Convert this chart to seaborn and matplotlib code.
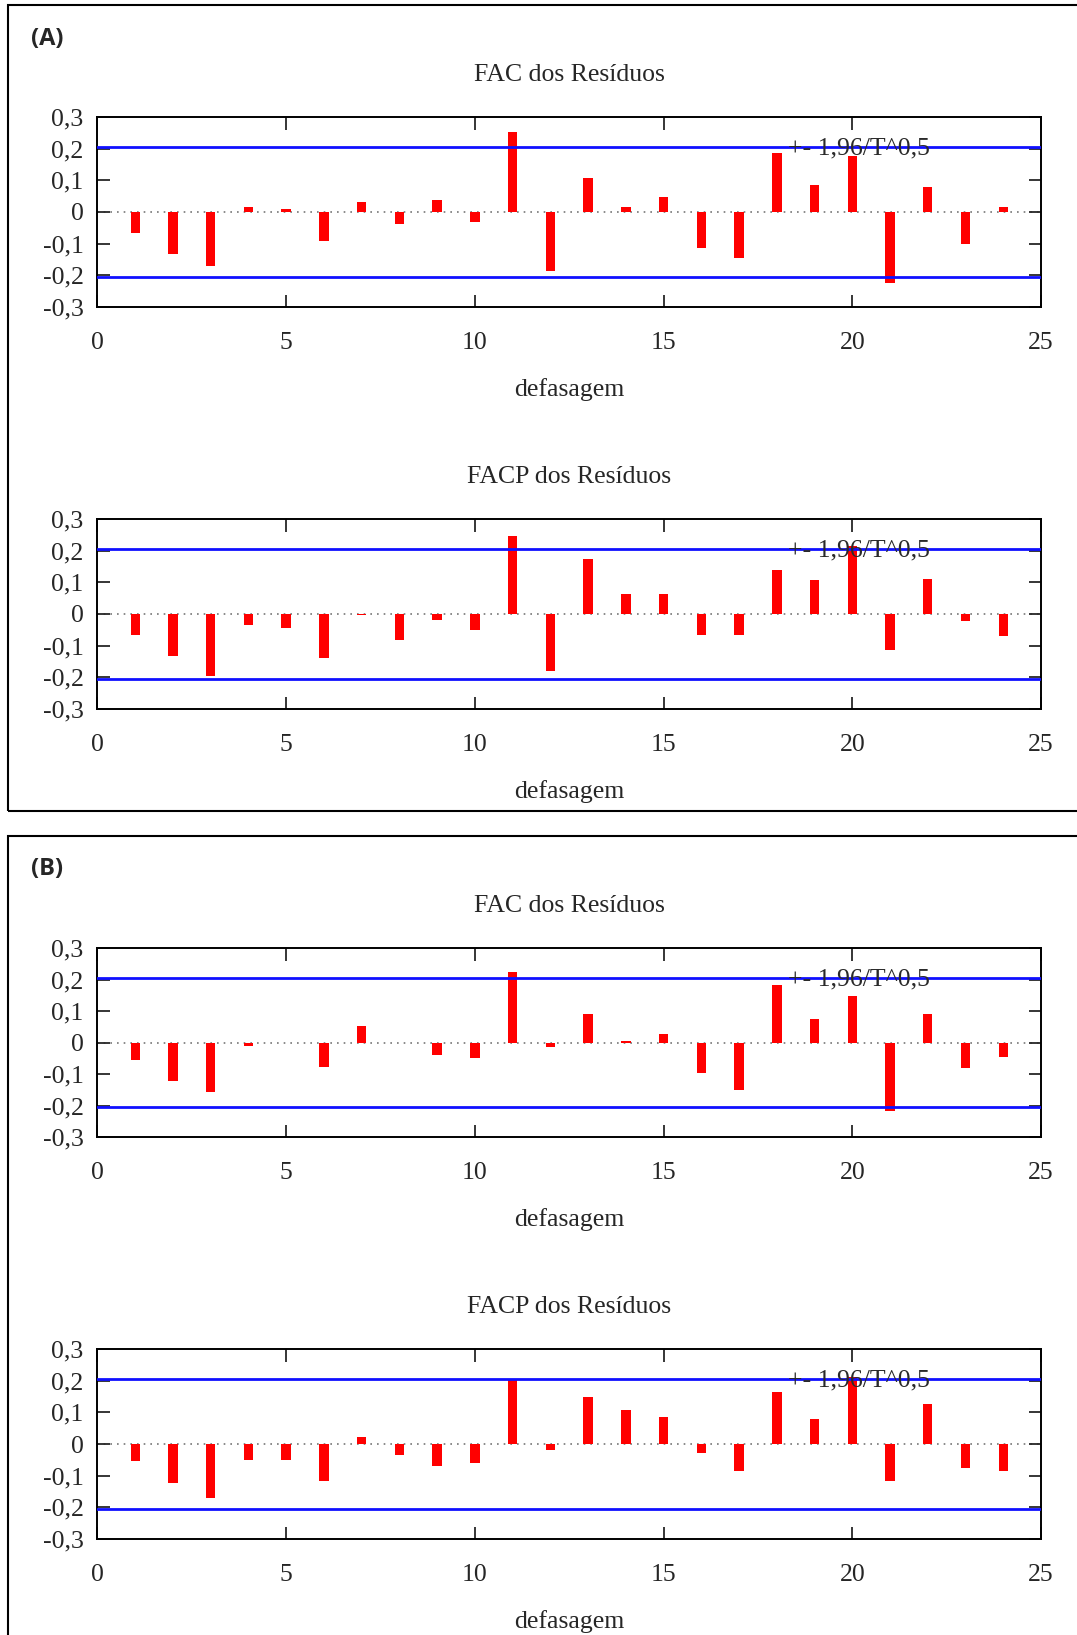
import matplotlib
matplotlib.use("Agg")
import matplotlib.pyplot as plt
import matplotlib.ticker as mticker
from matplotlib.patches import Rectangle
import seaborn as sns
import pandas as pd

# lags 1..24
lags = list(range(1, 25))

# (A) residual ACF / PACF
fac_a = [-0.065, -0.134, -0.170, 0.017, 0.010, -0.092, 0.033, -0.039, 0.038, -0.032,
         0.254, -0.186, 0.106, 0.017, 0.048, -0.113, -0.144, 0.187, 0.085, 0.177,
         -0.225, 0.080, -0.102, 0.017]
facp_a = [-0.065, -0.134, -0.197, -0.034, -0.044, -0.139, -0.002, -0.081, -0.018, -0.049,
          0.245, -0.181, 0.175, 0.064, 0.064, -0.065, -0.065, 0.138, 0.106, 0.215,
          -0.113, 0.112, -0.023, -0.071]

# (B) residual ACF / PACF
fac_b = [-0.055, -0.123, -0.156, -0.010, -0.003, -0.077, 0.053, -0.003, -0.039, -0.050,
         0.223, -0.014, 0.092, 0.006, 0.028, -0.098, -0.150, 0.182, 0.075, 0.149,
         -0.216, 0.092, -0.082, -0.045]
facp_b = [-0.055, -0.123, -0.170, -0.049, -0.049, -0.118, 0.022, -0.034, -0.070, -0.060,
          0.204, -0.018, 0.148, 0.106, 0.085, -0.028, -0.086, 0.164, 0.080, 0.212,
          -0.118, 0.127, -0.076, -0.086]

band = 0.206  # +- 1.96/sqrt(T)
x_ticks = [0, 5, 10, 15, 20, 25]
y_ticks = [-0.3, -0.2, -0.1, 0, 0.1, 0.2, 0.3]
y_labels = ["-0,3", "-0,2", "-0,1", "0", "0,1", "0,2", "0,3"]

sns.set_style("ticks")
plt.rcParams['font.family'] = ['Liberation Serif', 'DejaVu Serif']

W, H = 1077, 1635
fig = plt.figure(figsize=(W / 100, H / 100), dpi=100)


def frac(y_top, y_bot):
    return [97.5 / W, 1 - y_bot / H, (1041 - 97.5) / W, (y_bot - y_top) / H]


def draw_panel(rect, values, title):
    ax = fig.add_axes(rect)
    df = pd.DataFrame({'lag': lags, 'val': values})
    sns.barplot(data=df, x='lag', y='val', native_scale=True, width=0.25,
                color='#ff0000', saturation=1, errorbar=None, linewidth=0, ax=ax)
    ax.axhline(0, color='#777777', lw=1.2, ls=(0, (1, 3)), zorder=0)
    ax.axhline(band, color='#1010ff', lw=2, zorder=3)
    ax.axhline(-band, color='#1010ff', lw=2, zorder=3)
    ax.text(18.3, band - 0.006, '+- 1,96/T^0,5', fontsize=18.5, color='#2a2a2a',
            va='center', ha='left', zorder=4)
    ax.set_xlim(0, 25)
    ax.set_ylim(-0.3, 0.3)
    ax.set_xticks(x_ticks)
    ax.set_yticks(y_ticks)
    ax.yaxis.set_major_formatter(mticker.FixedFormatter(y_labels))
    ax.tick_params(axis='x', direction='in', length=9, width=1.3, top=True,
                   labelsize=18.5, pad=18)
    ax.tick_params(axis='y', direction='in', length=9, width=1.3, right=True,
                   labelsize=18.5, pad=10)
    for s in ax.spines.values():
        s.set_linewidth(1.4)
        s.set_color('black')
    ax.set_xlabel('')
    ax.set_ylabel('')
    h = rect[3] * H
    ax.text(0.5, 1 + 42 / h, title, transform=ax.transAxes, ha='center',
            va='center', fontsize=18.5)
    ax.text(0.5, -83 / h, 'defasagem', transform=ax.transAxes, ha='center',
            va='center', fontsize=18.5)
    return ax


draw_panel(frac(117, 307), fac_a, 'FAC dos Resíduos')
draw_panel(frac(519, 709), facp_a, 'FACP dos Resíduos')
draw_panel(frac(948, 1137), fac_b, 'FAC dos Resíduos')
draw_panel(frac(1349, 1539), facp_b, 'FACP dos Resíduos')

# panel frames and letters
fig.patches.append(Rectangle((8 / W, 1 - 811 / H), 1.2, (811 - 5) / H,
                             transform=fig.transFigure, fill=False,
                             edgecolor='black', lw=1.5))
fig.patches.append(Rectangle((8 / W, -0.1), 1.2, 0.1 + 1 - 836 / H,
                             transform=fig.transFigure, fill=False,
                             edgecolor='black', lw=1.5))
fig.text(31 / W, 1 - 39 / H, '(A)', fontsize=17, fontweight='bold',
         family=['Open Sans', 'DejaVu Sans'], va='center', ha='left')
fig.text(31 / W, 1 - 869 / H, '(B)', fontsize=17, fontweight='bold',
         family=['Open Sans', 'DejaVu Sans'], va='center', ha='left')

fig.savefig('out.png', dpi=100)
